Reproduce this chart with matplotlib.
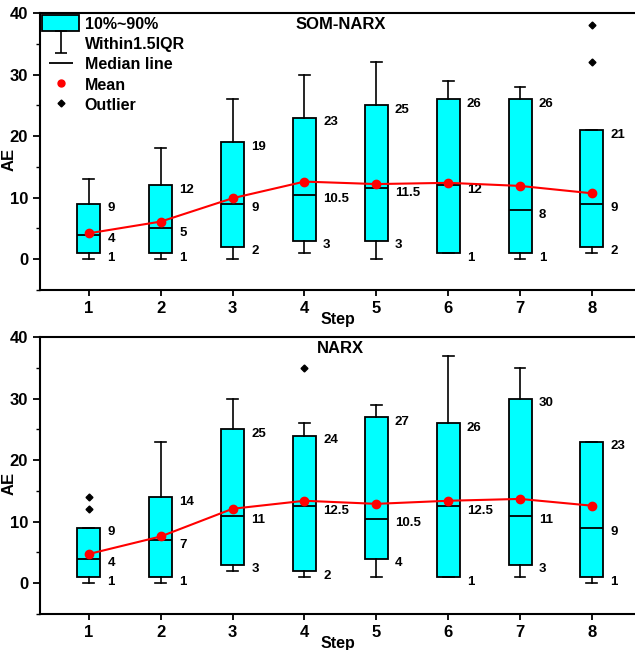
import numpy as np
import matplotlib.pyplot as plt
from matplotlib.lines import Line2D
from matplotlib.patches import Patch
from matplotlib.path import Path

plt.rcParams['font.family'] = ['Liberation Sans', 'DejaVu Sans']
plt.rcParams['font.weight'] = 'bold'

steps = [1, 2, 3, 4, 5, 6, 7, 8]

# SOM-NARX
som_lo = [0, 0, 0, 1, 0, 1, 0, 1]
som_q10 = [1, 1, 2, 3, 3, 1, 1, 2]
som_med = [4, 5, 9, 10.5, 11.5, 12, 8, 9]
som_q90 = [9, 12, 19, 23, 25, 26, 26, 21]
som_hi = [13, 18, 26, 30, 32, 29, 28, 21]
som_mean = [4.2, 6.1, 9.9, 12.6, 12.2, 12.4, 11.9, 10.7]
som_out = [[], [], [], [], [], [], [], [32, 38]]

# NARX
narx_lo = [0, 0, 2, 1, 1, 1, 1, 0]
narx_q10 = [1, 1, 3, 2, 4, 1, 3, 1]
narx_med = [4, 7, 11, 12.5, 10.5, 12.5, 11, 9]
narx_q90 = [9, 14, 25, 24, 27, 26, 30, 23]
narx_hi = [9, 23, 30, 26, 29, 37, 35, 23]
narx_mean = [4.75, 7.6, 12.1, 13.4, 12.9, 13.4, 13.7, 12.6]
narx_out = [[12, 14], [], [], [35], [], [], [], []]

# I-beam marker for the whisker legend entry
ibeam = Path([(-0.5, 1), (0.5, 1), (0, 1), (0, -1), (-0.5, -1), (0.5, -1)],
             [Path.MOVETO, Path.LINETO, Path.MOVETO, Path.LINETO, Path.MOVETO, Path.LINETO])


def panel(ax, name, lo, q10, med, q90, hi, mean, out, legend=False):
    stats = []
    for i in range(len(steps)):
        stats.append(dict(whislo=lo[i], q1=q10[i], med=med[i], q3=q90[i],
                          whishi=hi[i], fliers=out[i]))
    ax.bxp(stats, positions=steps, widths=0.32, capwidths=0.15, patch_artist=True,
           boxprops=dict(facecolor='#00ffff', edgecolor='black', linewidth=1.3),
           medianprops=dict(color='black', linewidth=1.3),
           whiskerprops=dict(color='black', linewidth=1.2),
           capprops=dict(color='black', linewidth=1.2),
           flierprops=dict(marker='D', markersize=3.5, markerfacecolor='black',
                           markeredgecolor='black'))
    ax.plot(steps, mean, color='red', linewidth=1.5, marker='o', markersize=6, zorder=5)
    for i, s in enumerate(steps):
        for v in (q90[i], med[i], q10[i]):
            ax.text(s + 0.26, v - 0.75, '%g' % v, ha='left', va='center',
                    fontsize=9.5, fontweight='bold')
    ax.text(4.5, 38.2, name, ha='center', va='center', fontsize=12, fontweight='bold')

    ax.set_xlim(0.32, 8.6)
    ax.set_ylim(-5, 40)
    ax.set_xticks(steps)
    ax.set_yticks([0, 10, 20, 30, 40])
    ax.set_yticks([-5, 5, 15, 25, 35], minor=True)
    ax.tick_params(axis='both', which='major', direction='out', length=5, width=1.3,
                   labelsize=12)
    ax.tick_params(axis='x', which='major', length=4, pad=4)
    ax.tick_params(axis='y', which='minor', direction='out', length=3, width=1.0)
    for lab in ax.get_xticklabels() + ax.get_yticklabels():
        lab.set_fontweight('bold')
    ax.spines['right'].set_visible(False)
    for sp in ('left', 'bottom', 'top'):
        ax.spines[sp].set_linewidth(1.5)
    ax.set_xlabel('Step', fontsize=11.5, fontweight='bold', labelpad=-3)
    ax.set_ylabel('AE', fontsize=12, fontweight='bold')
    ax.yaxis.set_label_coords(-0.039, 0.47)

    if legend:
        handles = [
            Patch(facecolor='#00ffff', edgecolor='black', linewidth=1.3),
            Line2D([], [], linestyle='None', marker=ibeam, markersize=16,
                   markeredgecolor='black', markeredgewidth=1.2),
            Line2D([], [], linestyle='None', marker='_', markersize=17,
                   markeredgecolor='black', markeredgewidth=1.3),
            Line2D([], [], linestyle='None', marker='o', markersize=5,
                   markerfacecolor='red', markeredgecolor='red'),
            Line2D([], [], linestyle='None', marker='D', markersize=3.5,
                   markerfacecolor='black', markeredgecolor='black'),
        ]
        labels = ['10%~90%', 'Within1.5IQR', 'Median line', 'Mean', 'Outlier']
        ax.legend(handles, labels, loc='upper left', frameon=False,
                  prop=dict(size=11.5, weight='bold'), handlelength=2.3,
                  handleheight=1.15, handletextpad=0.35, labelspacing=0.25,
                  borderpad=0.0, borderaxespad=0.15)


fig = plt.figure(figsize=(6.35, 6.5), dpi=100)
ax1 = fig.add_axes([0.063, 0.554, 0.937, 0.426])
ax2 = fig.add_axes([0.063, 0.0554, 0.937, 0.426])

panel(ax1, 'SOM-NARX', som_lo, som_q10, som_med, som_q90, som_hi, som_mean, som_out,
      legend=True)
panel(ax2, 'NARX', narx_lo, narx_q10, narx_med, narx_q90, narx_hi, narx_mean, narx_out)

fig.savefig('out.png', dpi=100)
